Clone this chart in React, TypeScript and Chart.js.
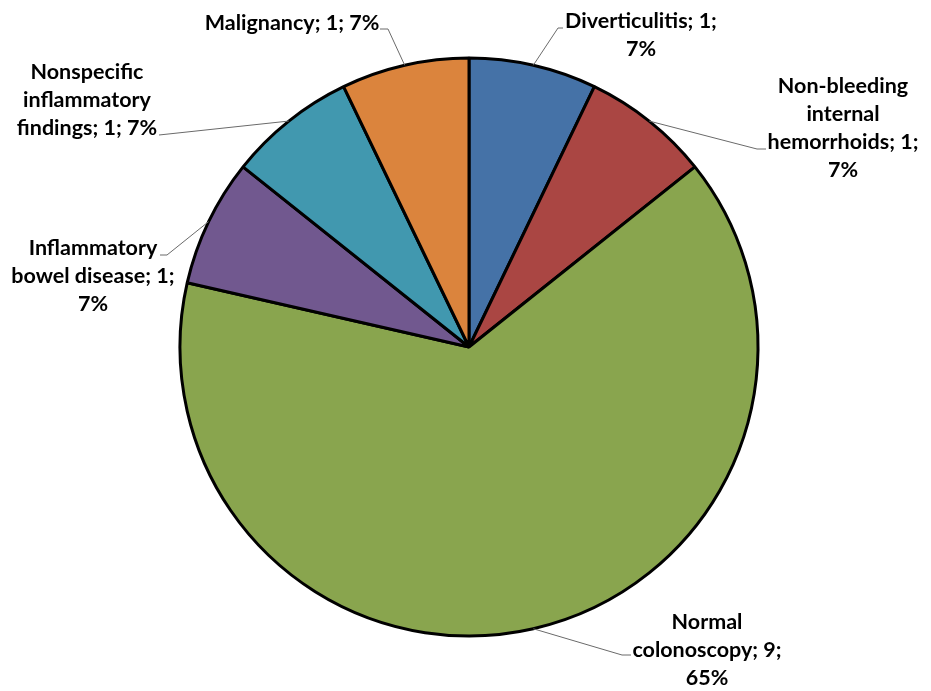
import React, { useEffect, useRef } from "react";
import { Chart, registerables } from "chart.js";

Chart.register(...registerables);

const categories = [
  "Diverticulitis",
  "Non-bleeding internal hemorrhoids",
  "Normal colonoscopy",
  "Inflammatory bowel disease",
  "Nonspecific inflammatory findings",
  "Malignancy",
];
const counts = [1, 1, 9, 1, 1, 1];
const percentLabels = ["7%", "7%", "65%", "7%", "7%", "7%"];
const sliceColors = ["#4572A7", "#AA4643", "#89A54E", "#71588F", "#4198AF", "#DB843D"];

// words per line for each wrapped data label
const wrapWords = [[2, 1], [1, 1, 2, 1], [1, 2, 1], [1, 3, 1], [1, 1, 3], [3]];

// label layout relative to pie center: text block center, tail (near text), elbow
const labelLayout = [
  { c: [172, -312], tail: [94, -319], elbow: [89, -319] },
  { c: [374, -219], tail: [297, -198], elbow: [288, -198] },
  { c: [238, 303], tail: [162, 308], elbow: [153, 308] },
  { c: [-376, -71], tail: [-309, -92], elbow: [-302, -92] },
  { c: [-382, -247], tail: [-310, -212], elbow: [-310, -212] },
  { c: [-177, -324], tail: [-89, -318], elbow: [-81, -318] },
];

const FONT = "bold 21.5px Lato";
const LINE_H = 28;

const labelPlugin = {
  id: "pieLabels",
  afterDraw(chart: any) {
    const ctx = chart.ctx;
    const meta = chart.getDatasetMeta(0);
    ctx.save();
    meta.data.forEach((arc: any, i: number) => {
      const p = arc.getProps(["x", "y", "startAngle", "endAngle", "outerRadius"], true);
      const mid = (p.startAngle + p.endAngle) / 2;
      const ax = p.x + Math.cos(mid) * p.outerRadius;
      const ay = p.y + Math.sin(mid) * p.outerRadius;
      const L = labelLayout[i];
      ctx.strokeStyle = "#6a6a6a";
      ctx.lineWidth = 1;
      ctx.beginPath();
      ctx.moveTo(p.x + L.tail[0], p.y + L.tail[1]);
      ctx.lineTo(p.x + L.elbow[0], p.y + L.elbow[1]);
      ctx.lineTo(ax, ay);
      ctx.stroke();

      const tokens = `${categories[i]}; ${counts[i]}; ${percentLabels[i]}`.split(" ");
      const lines: string[] = [];
      let k = 0;
      wrapWords[i].forEach((n) => {
        lines.push(tokens.slice(k, k + n).join(" "));
        k += n;
      });
      ctx.font = FONT;
      ctx.fillStyle = "#000000";
      ctx.textAlign = "center";
      ctx.textBaseline = "middle";
      const cx = p.x + L.c[0];
      const cy = p.y + L.c[1];
      const top = cy - ((lines.length - 1) * LINE_H) / 2;
      lines.forEach((ln, j) => ctx.fillText(ln, cx, top + j * LINE_H));
    });
    ctx.restore();
  },
};

export default function App() {
  const ref = useRef<HTMLCanvasElement | null>(null);
  useEffect(() => {
    if (!ref.current) return;
    const chart = new Chart(ref.current, {
      type: "pie",
      data: {
        labels: categories,
        datasets: [
          {
            data: counts,
            backgroundColor: sliceColors,
            borderColor: "#000000",
            borderWidth: 3,
          },
        ],
      },
      options: {
        animation: false,
        responsive: true,
        maintainAspectRatio: false,
        radius: 289,
        layout: { padding: { left: 7, right: 0, top: 3, bottom: 0 } },
        plugins: {
          legend: { display: false },
          tooltip: { enabled: false },
          title: { display: false },
        },
      } as any,
      plugins: [labelPlugin],
    });
    return () => chart.destroy();
  }, []);
  return (
    <div style={{ position: "absolute", left: 0, top: 0, width: 931, height: 691, background: "#ffffff" }}>
      <canvas ref={ref} />
    </div>
  );
}
